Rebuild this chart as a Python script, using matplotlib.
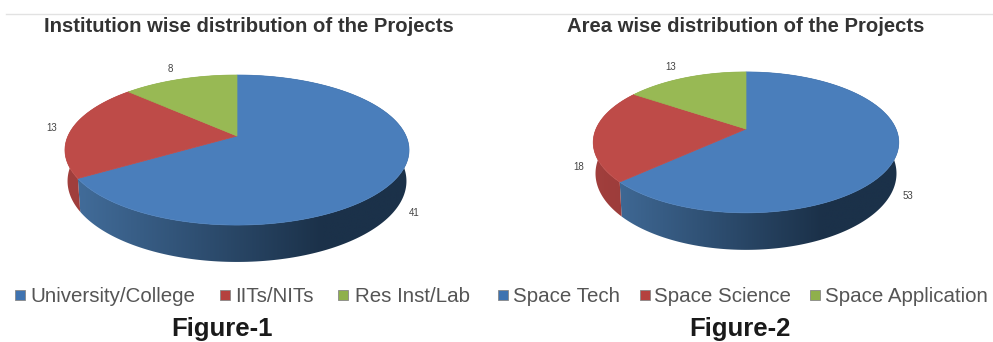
#!/usr/bin/env python3
"""Two tilted 3D style pies drawn side by side, distribution of projects."""

import numpy as np
import matplotlib
matplotlib.use('Agg')
import matplotlib.pyplot as plt
from matplotlib.colors import to_rgb
from matplotlib.patches import Polygon, Rectangle

plt.rcParams['font.family'] = ['Liberation Sans', 'DejaVu Sans']

fig1_title = 'Institution wise distribution of the Projects'
fig1_labels = ['University/College', 'IITs/NITs', 'Res Inst/Lab']
fig1_values = [41, 13, 8]

fig2_title = 'Area wise distribution of the Projects'
fig2_labels = ['Space Tech', 'Space Science', 'Space Application']
fig2_values = [53, 18, 13]

TOP_COLORS = ['#4a7ebb', '#be4b48', '#98b954']
SIDE_LIGHT = ['#44709f', '#a23f3d', '#7f9c45']
SIDE_DARK = ['#1b3149', '#7d2f2d', '#5f7534']
LEGEND_COLORS = ['#3f73b0', '#b5423f', '#8fb04c']
GREY = '#555555'


def project(t, cx, cy, a, b, k):
    # t clockwise from the top of the disc, k is the perspective strength
    x, y = np.sin(t), np.cos(t)
    d = 1 + k * y
    return cx + a * x / d, cy - b * y / d, d


def draw_pie(ax, values, cx, cy, a, b, k, depth):
    edges = np.concatenate([[0], np.cumsum(values)]) / np.sum(values) * 2 * np.pi

    # side wall first, the top surface covers whatever is at the back
    for i in range(len(values)):
        ts = np.linspace(edges[i], edges[i + 1], 200)
        x, y, d = project(ts, cx, cy, a, b, k)
        x2 = cx + (x - cx) * 0.985
        y2 = y + depth / d
        # wall gets darker towards the right
        f = np.clip(np.linspace(0, 1.35, 256), 0, 1)[None, :, None]
        grad = np.array(to_rgb(SIDE_LIGHT[i])) * (1 - f) + np.array(to_rgb(SIDE_DARK[i])) * f
        im = ax.imshow(grad, extent=(cx - a * 1.05, cx + a * 1.05, cy + b * 2, cy - b * 2),
                       aspect='auto', interpolation='bilinear')
        wall = Polygon(np.column_stack([np.r_[x, x2[::-1]], np.r_[y, y2[::-1]]]),
                       closed=True, facecolor='none', edgecolor='none', transform=ax.transData)
        ax.add_patch(wall)
        im.set_clip_path(wall)

    for i in range(len(values)):
        ts = np.linspace(edges[i], edges[i + 1], 200)
        x, y, _ = project(ts, cx, cy, a, b, k)
        pts = np.column_stack([np.r_[cx, x], np.r_[cy, y]])
        ax.add_patch(Polygon(pts, closed=True, facecolor=TOP_COLORS[i],
                             edgecolor=TOP_COLORS[i], linewidth=0.5, zorder=3))


def draw_legend(ax, labels, box_x, text_x, y):
    for i, label in enumerate(labels):
        ax.add_patch(Rectangle((box_x[i], y - 5), 10, 10, facecolor=LEGEND_COLORS[i],
                               edgecolor='#888888', linewidth=0.6))
        ax.text(text_x[i], y + 1, label, fontsize=14.8, color=GREY, ha='left', va='center')


fig = plt.figure(figsize=(9.93, 3.42), dpi=100)
ax = fig.add_axes([0, 0, 1, 1])
ax.axis('off')

ax.plot([6, 993], [14, 14], color='#e2e2e2', linewidth=1)

draw_pie(ax, fig1_values, 237, 136, 169, 72.4, 0.187, 30)
draw_pie(ax, fig2_values, 746, 129, 150, 67.9, 0.19, 30)

ax.set_xlim(0, 993)
ax.set_ylim(342, 0)

ax.text(249, 26, fig1_title, fontsize=14.6, fontweight='bold', color='#333333', ha='center', va='center')
ax.text(745.5, 27, fig2_title, fontsize=14.6, fontweight='bold', color='#333333', ha='center', va='center')

for pos, val in zip([(414, 213), (52, 128), (170, 69)], fig1_values):
    ax.text(pos[0], pos[1], str(val), fontsize=7, color='#444444', ha='center', va='center')
for pos, val in zip([(908, 196), (579, 167), (671, 67)], fig2_values):
    ax.text(pos[0], pos[1], str(val), fontsize=7, color='#444444', ha='center', va='center')

draw_legend(ax, fig1_labels, [15, 220, 338], [30, 235, 355], 295)
draw_legend(ax, fig2_labels, [498, 640, 810], [513, 654, 825], 295)

ax.text(222, 329, 'Figure-1', fontsize=18.5, fontweight='bold', color='#1a1a1a', ha='center', va='center')
ax.text(739.5, 329, 'Figure-2', fontsize=18.5, fontweight='bold', color='#1a1a1a', ha='center', va='center')

fig.savefig('out.png', dpi=100)
